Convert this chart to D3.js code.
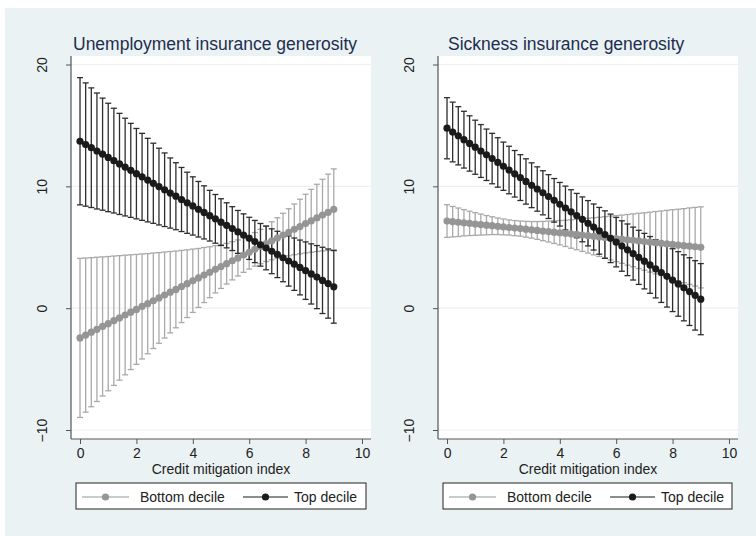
<!DOCTYPE html>
<html>
<head>
<meta charset="utf-8">
<script src="https://cdn.jsdelivr.net/npm/d3@7"></script>
<style>
  body { margin: 0; background: #fff; }
  svg { display: block; font-family: "Liberation Sans", Arial, sans-serif; }
</style>
</head>
<body>
<div id="chart"></div>
<script>
// credit mitigation index values
var xVals = [0,0.2,0.4,0.6,0.8,1,1.2,1.4,1.6,1.8,2,2.2,2.4,2.6,2.8,3,3.2,3.4,3.6,3.8,4,4.2,4.4,4.6,4.8,5,5.2,5.4,5.6,5.8,6,6.2,6.4,6.6,6.8,7,7.2,7.4,7.6,7.8,8,8.2,8.4,8.6,8.8,9];

// unemployment insurance generosity: estimates and CI half-widths
var unempTopEst = [13.70,13.43,13.17,12.90,12.64,12.37,12.11,11.84,11.58,11.31,11.04,10.78,10.51,10.25,9.98,9.72,9.45,9.19,8.92,8.65,8.39,8.12,7.86,7.59,7.33,7.06,6.80,6.53,6.26,6.00,5.73,5.47,5.20,4.94,4.67,4.41,4.14,3.87,3.61,3.34,3.08,2.81,2.55,2.28,2.02,1.75];
var unempTopHw = [5.22,5.06,4.91,4.76,4.60,4.45,4.30,4.15,4.01,3.86,3.71,3.57,3.43,3.29,3.15,3.02,2.88,2.75,2.63,2.51,2.39,2.28,2.18,2.08,2.00,1.92,1.85,1.80,1.76,1.74,1.73,1.73,1.75,1.79,1.84,1.90,1.97,2.06,2.15,2.25,2.36,2.47,2.59,2.72,2.84,2.98];
var unempBotEst = [-2.44,-2.21,-1.97,-1.74,-1.50,-1.27,-1.03,-0.80,-0.56,-0.33,-0.10,0.14,0.37,0.61,0.84,1.08,1.31,1.54,1.78,2.01,2.25,2.48,2.72,2.95,3.19,3.42,3.65,3.89,4.12,4.36,4.59,4.83,5.06,5.30,5.53,5.76,6.00,6.23,6.47,6.70,6.94,7.17,7.41,7.64,7.87,8.11];
var unempBotHw = [6.53,6.33,6.12,5.92,5.71,5.51,5.31,5.11,4.91,4.71,4.51,4.31,4.11,3.92,3.72,3.53,3.34,3.15,2.96,2.78,2.60,2.42,2.26,2.09,1.94,1.80,1.67,1.57,1.48,1.42,1.38,1.38,1.41,1.47,1.56,1.66,1.79,1.93,2.08,2.24,2.41,2.58,2.76,2.94,3.13,3.32];

// sickness insurance generosity
var sickTopEst = [14.77,14.46,14.15,13.83,13.52,13.21,12.90,12.59,12.28,11.96,11.65,11.34,11.03,10.72,10.40,10.09,9.78,9.47,9.16,8.85,8.53,8.22,7.91,7.60,7.29,6.97,6.66,6.35,6.04,5.73,5.42,5.10,4.79,4.48,4.17,3.86,3.55,3.23,2.92,2.61,2.30,1.99,1.67,1.36,1.05,0.74];
var sickTopHw = [2.51,2.45,2.39,2.33,2.27,2.22,2.17,2.11,2.07,2.03,1.98,1.95,1.91,1.88,1.86,1.84,1.82,1.81,1.80,1.79,1.79,1.80,1.81,1.82,1.84,1.86,1.89,1.92,1.95,1.99,2.03,2.07,2.12,2.17,2.22,2.28,2.33,2.39,2.45,2.52,2.58,2.65,2.71,2.78,2.85,2.92];
var sickBotEst = [7.15,7.10,7.05,7.01,6.96,6.91,6.86,6.81,6.77,6.72,6.67,6.62,6.57,6.53,6.48,6.43,6.38,6.33,6.29,6.24,6.19,6.14,6.09,6.05,6.00,5.95,5.90,5.85,5.81,5.76,5.71,5.66,5.61,5.57,5.52,5.47,5.42,5.37,5.33,5.28,5.23,5.18,5.13,5.09,5.04,4.99];
var sickBotHw = [1.34,1.25,1.17,1.08,1.00,0.93,0.86,0.79,0.73,0.68,0.65,0.62,0.62,0.62,0.65,0.68,0.73,0.79,0.86,0.93,1.00,1.08,1.17,1.25,1.34,1.43,1.52,1.61,1.70,1.80,1.89,1.98,2.08,2.17,2.27,2.36,2.46,2.56,2.65,2.75,2.85,2.94,3.04,3.14,3.23,3.33];

var xTicks = [0,2,4,6,8,10];
var yTicks = [-10,0,10,20];
var titles = ["Unemployment insurance generosity", "Sickness insurance generosity"];
var seriesNames = ["Bottom decile", "Top decile"];
var xTitle = "Credit mitigation index";

var W = 756, H = 536;
var plotW = 300, plotTop = 56, plotBottom = 439;
var bg = "#eaf2f3";
var topColor = "#1a1a1a", topBarColor = "#2e2e2e";
var botColor = "#959595", botBarColor = "#a9a9a9";

var svg = d3.select("#chart").append("svg")
  .attr("width", W)
  .attr("height", H);

svg.append("rect")
  .attr("x", 5).attr("y", 8)
  .attr("width", W - 5).attr("height", H - 8)
  .attr("fill", bg);

var x = d3.scaleLinear().domain([-0.32, 10.32]).range([0, plotW]);
var y = d3.scaleLinear().domain([-10, 20]).range([430 - plotTop, 64.5 - plotTop]);

function drawPanel(left, title, titleX, top, bottom, legendPos) {
  var g = svg.append("g").attr("transform", "translate(" + left + "," + plotTop + ")");
  var ph = plotBottom - plotTop;

  g.append("rect")
    .attr("width", plotW).attr("height", ph)
    .attr("fill", "#fff");

  // gridlines
  g.selectAll(".grid").data(yTicks).enter().append("line")
    .attr("x1", 0).attr("x2", plotW)
    .attr("y1", function(d) { return y(d); })
    .attr("y2", function(d) { return y(d); })
    .attr("stroke", bg).attr("stroke-width", 1.2);

  // title
  svg.append("text")
    .attr("x", titleX).attr("y", 49.5)
    .attr("font-size", 17.5)
    .attr("fill", "#1e2d4f")
    .text(title);

  // error bars: bottom first, then top
  [[bottom, botBarColor], [top, topBarColor]].forEach(function(s) {
    var est = s[0][0], hw = s[0][1];
    var bars = g.append("g");
    xVals.forEach(function(xv, i) {
      var lo = y(est[i] - hw[i]), hi = y(est[i] + hw[i]), cx = x(xv);
      bars.append("line").attr("x1", cx).attr("x2", cx).attr("y1", lo).attr("y2", hi)
        .attr("stroke", s[1]).attr("stroke-width", 1.3);
      bars.append("line").attr("x1", cx - 3).attr("x2", cx + 3).attr("y1", lo).attr("y2", lo)
        .attr("stroke", s[1]).attr("stroke-width", 1.3);
      bars.append("line").attr("x1", cx - 3).attr("x2", cx + 3).attr("y1", hi).attr("y2", hi)
        .attr("stroke", s[1]).attr("stroke-width", 1.3);
    });
  });

  var line = d3.line()
    .x(function(d, i) { return x(xVals[i]); })
    .y(function(d) { return y(d); });

  [[bottom[0], botColor], [top[0], topColor]].forEach(function(s) {
    g.append("path").datum(s[0])
      .attr("d", line)
      .attr("fill", "none")
      .attr("stroke", s[1]).attr("stroke-width", 1.2);
    g.selectAll(null).data(s[0]).enter().append("circle")
      .attr("cx", function(d, i) { return x(xVals[i]); })
      .attr("cy", function(d) { return y(d); })
      .attr("r", 3.6)
      .attr("fill", s[1]);
  });

  // axes
  var axisColor = "#555";
  g.append("line").attr("x1", 0).attr("x2", 0).attr("y1", 0).attr("y2", ph)
    .attr("stroke", axisColor).attr("stroke-width", 1.2);
  g.append("line").attr("x1", 0).attr("x2", plotW).attr("y1", ph).attr("y2", ph)
    .attr("stroke", axisColor).attr("stroke-width", 1.2);

  var xAxis = g.append("g").attr("transform", "translate(0," + ph + ")")
    .call(d3.axisBottom(x).tickValues(xTicks).tickSize(5).tickPadding(4));
  xAxis.select(".domain").remove();
  xAxis.selectAll("line").attr("stroke", axisColor);
  xAxis.selectAll("text").attr("font-size", 14).attr("fill", "#222")
    .attr("font-family", "Liberation Sans, Arial, sans-serif");

  var yAxis = g.append("g")
    .call(d3.axisLeft(y).tickValues(yTicks).tickSize(5).tickFormat(d3.format("d")));
  yAxis.select(".domain").remove();
  yAxis.selectAll("line").attr("stroke", axisColor);
  yAxis.selectAll("text")
    .attr("font-size", 14).attr("fill", "#222")
    .attr("font-family", "Liberation Sans, Arial, sans-serif")
    .attr("x", null).attr("dy", "0.35em")
    .attr("text-anchor", "middle")
    .attr("transform", "translate(-29,0) rotate(-90)");

  svg.append("text")
    .attr("x", left + x(5)).attr("y", 474)
    .attr("text-anchor", "middle")
    .attr("font-size", 14).attr("fill", "#222")
    .text(xTitle);

  // legend
  var lg = svg.append("g");
  lg.append("rect")
    .attr("x", legendPos.x).attr("y", 483)
    .attr("width", legendPos.w).attr("height", 26)
    .attr("fill", "#fff").attr("stroke", "#222").attr("stroke-width", 1);
  var items = [
    {name: seriesNames[0], color: botColor, x0: legendPos.x + 6, len: 47, gap: 11},
    {name: seriesNames[1], color: topColor, x0: legendPos.x + legendPos.off, len: 45, gap: 6}
  ];
  items.forEach(function(it) {
    lg.append("line").attr("x1", it.x0).attr("x2", it.x0 + it.len)
      .attr("y1", 497).attr("y2", 497)
      .attr("stroke", it.color).attr("stroke-width", 1.2);
    lg.append("circle").attr("cx", it.x0 + it.len / 2).attr("cy", 497).attr("r", 3.6)
      .attr("fill", it.color);
    lg.append("text").attr("x", it.x0 + it.len + it.gap).attr("y", 502)
      .attr("font-size", 14).attr("fill", "#222")
      .text(it.name);
  });
}

drawPanel(71, titles[0], 73, [unempTopEst, unempTopHw], [unempBotEst, unempBotHw], {x: 76, w: 290, off: 167});
drawPanel(438, titles[1], 448, [sickTopEst, sickTopHw], [sickBotEst, sickBotHw], {x: 443, w: 289, off: 167});
</script>
</body>
</html>
